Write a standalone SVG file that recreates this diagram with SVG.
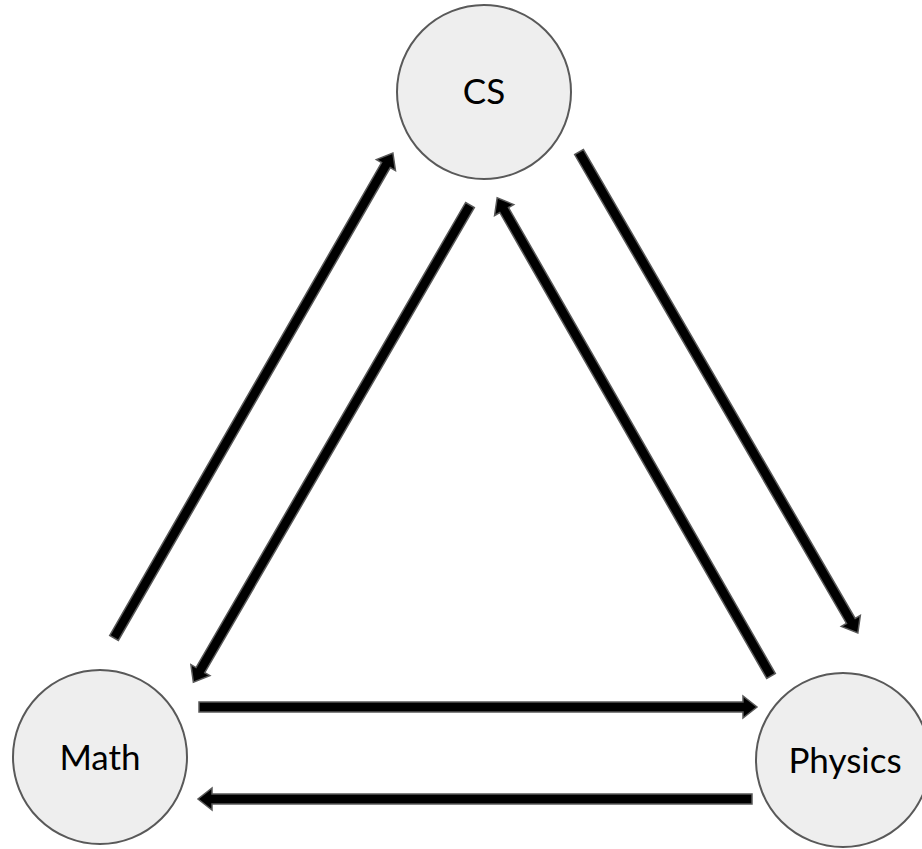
<svg xmlns="http://www.w3.org/2000/svg" width="922" height="849" viewBox="0 0 922 849">
<style>
.node{fill:#eeeeee;stroke:#595959;stroke-width:2}
.lbl{font-family:Lato,"Open Sans",sans-serif;font-size:35px;fill:#000;text-anchor:middle}
.arr{fill:#000;stroke:#595959;stroke-width:1.5;stroke-linejoin:miter}
</style>
<rect width="922" height="849" fill="#fff"/>
<g id="connectors">
<path class="arr" transform="translate(114,638) rotate(-60.1)" d="M0,-5 L545.5,-5 L545.5,-11 L559.5,0 L545.5,11 L545.5,5 L0,5 Z"/>
<path class="arr" transform="translate(470,205) rotate(120.1)" d="M0,-5 L537.6,-5 L537.6,-11 L551.6,0 L537.6,11 L537.6,5 L0,5 Z"/>
<path class="arr" transform="translate(771,676) rotate(-119.8)" d="M0,-5 L537,-5 L537,-11 L551,0 L537,11 L537,5 L0,5 Z"/>
<path class="arr" transform="translate(579,152) rotate(59.9)" d="M0,-5 L542,-5 L542,-11 L556,0 L542,11 L542,5 L0,5 Z"/>
<path class="arr" transform="translate(199,707)" d="M0,-5 L544,-5 L544,-11 L558,0 L544,11 L544,5 L0,5 Z"/>
<path class="arr" transform="translate(752,799) rotate(180)" d="M0,-5 L540,-5 L540,-11 L554,0 L540,11 L540,5 L0,5 Z"/>
</g>
<g id="cs">
<circle class="node" cx="484" cy="92" r="87"/>
<text class="lbl" x="484" y="104">CS</text>
</g>
<g id="math">
<circle class="node" cx="100" cy="757" r="87"/>
<text class="lbl" x="100" y="770">Math</text>
</g>
<g id="physics">
<circle class="node" cx="843" cy="760" r="87"/>
<text class="lbl" x="845" y="773">Physics</text>
</g>
</svg>
